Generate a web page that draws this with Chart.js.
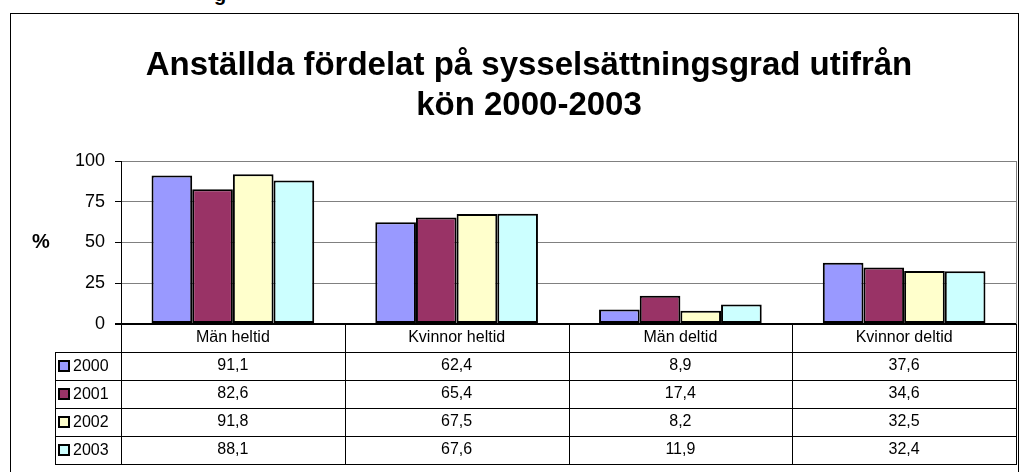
<!DOCTYPE html>
<html>
<head>
<meta charset="utf-8">
<script src="https://cdn.jsdelivr.net/npm/chart.js"></script>
<style>
  html, body { margin: 0; padding: 0; background: #fff; overflow: hidden; }
  #ram { position: absolute; left: 10px; top: 13px; width: 1007px; height: 520px; border: 1.5px solid #000; }
  #rest { position: absolute; left: 214px; top: -17px; font: bold 20px "Liberation Sans", Arial, sans-serif; color: #000; }
  canvas { position: absolute; left: 0; top: 0; }
</style>
</head>
<body>
<div id="rest">g</div>
<div id="ram"></div>
<canvas id="diagram" width="1021" height="472"></canvas>
<script>
// Data
const kategorier = ["Män heltid", "Kvinnor heltid", "Män deltid", "Kvinnor deltid"];
const ar = ["2000", "2001", "2002", "2003"];
const varden2000 = [91.1, 62.4, 8.9, 37.6];
const varden2001 = [82.6, 65.4, 17.4, 34.6];
const varden2002 = [91.8, 67.5, 8.2, 32.5];
const varden2003 = [88.1, 67.6, 11.9, 32.4];
const yTicks = [0, 25, 50, 75, 100];
const farger = ["#9999FF", "#993366", "#FFFFCC", "#CCFFFF"];

const serier = [varden2000, varden2001, varden2002, varden2003];
const FONT = '"Liberation Sans", Arial, sans-serif';

// Ritar datatabellen under diagrammet samt %-etiketten
const tabellPlugin = {
  id: "tabell",
  afterDraw(chart) {
    const ctx = chart.ctx;
    const x = chart.scales.x;
    const y = chart.scales.y;
    const area = chart.chartArea;
    const bredd = (x.right - x.left) / kategorier.length;
    const radH = 28;
    const topp = area.bottom;
    const tabellTopp = topp + radH;
    const botten = tabellTopp + radH * ar.length;
    const vansterKant = 55;

    ctx.save();
    // högerkant på ritytan
    ctx.strokeStyle = "#808080";
    ctx.lineWidth = 1;
    ctx.beginPath();
    ctx.moveTo(area.right + 0.5, area.top);
    ctx.lineTo(area.right + 0.5, area.bottom);
    ctx.stroke();

    ctx.strokeStyle = "#000";
    ctx.lineWidth = 1;
    ctx.beginPath();
    // vertikala linjer
    for (let i = 0; i <= kategorier.length; i++) {
      const px = Math.round(x.left + i * bredd) + 0.5;
      ctx.moveTo(px, topp);
      ctx.lineTo(px, botten);
    }
    ctx.moveTo(vansterKant + 0.5, tabellTopp);
    ctx.lineTo(vansterKant + 0.5, botten);
    // horisontella linjer
    for (let r = 0; r <= ar.length; r++) {
      const py = tabellTopp + r * radH + 0.5;
      ctx.moveTo(vansterKant, py);
      ctx.lineTo(x.right + 1, py);
    }
    ctx.stroke();

    ctx.fillStyle = "#000";
    ctx.textAlign = "center";
    ctx.textBaseline = "middle";
    ctx.font = "16px " + FONT;
    kategorier.forEach((k, i) => {
      const cx = x.getPixelForValue(i);
      ctx.fillText(k, cx, topp + radH / 2);
      serier.forEach((s, r) => {
        ctx.fillText(String(s[i]).replace(".", ","), cx, tabellTopp + r * radH + radH / 2);
      });
    });

    // förklaringar
    ar.forEach((a, r) => {
      const cy = tabellTopp + r * radH + radH / 2;
      ctx.fillStyle = farger[r];
      ctx.fillRect(59, cy - 5, 10, 10);
      ctx.strokeStyle = "#000";
      ctx.lineWidth = 2;
      ctx.strokeRect(59, cy - 5, 10, 10);
      ctx.fillStyle = "#000";
      ctx.textAlign = "left";
      ctx.font = "16px " + FONT;
      ctx.fillText(a, 73, cy + 1);
    });

    // %-etikett
    ctx.font = "bold 20px " + FONT;
    ctx.textAlign = "center";
    ctx.fillText("%", 41, y.getPixelForValue(50));
    ctx.restore();
  }
};

new Chart(document.getElementById("diagram"), {
  type: "bar",
  data: {
    labels: kategorier,
    datasets: ar.map((a, i) => ({
      label: a,
      data: serier[i],
      backgroundColor: farger[i],
      borderColor: "#000",
      borderWidth: 2,
      borderSkipped: false,
      categoryPercentage: 0.727,
      barPercentage: 1
    }))
  },
  options: {
    responsive: false,
    animation: false,
    devicePixelRatio: 1,
    layout: { padding: { left: 42, right: 5, top: 0, bottom: 148 } },
    plugins: {
      legend: { display: false },
      tooltip: { enabled: false },
      title: {
        display: true,
        text: ["Anställda fördelat på sysselsättningsgrad utifrån", "kön 2000-2003"],
        color: "#000",
        font: { family: FONT, size: 33, weight: "bold", lineHeight: 40 / 33 },
        padding: { top: 46, bottom: 35 }
      }
    },
    scales: {
      x: { display: false },
      y: {
        min: 0,
        max: 100,
        afterBuildTicks: (s) => { s.ticks = yTicks.map(v => ({ value: v })); },
        afterFit: (s) => { s.width = 79; },
        ticks: { color: "#000", font: { family: FONT, size: 18 }, padding: 10 },
        grid: {
          color: (c) => c.tick && c.tick.value === 0 ? "#000" : "#808080",
          lineWidth: (c) => c.tick && c.tick.value === 0 ? 2 : 1,
          tickColor: "#000",
          tickLength: 6
        },
        border: { color: "#000", width: 1 }
      }
    }
  },
  plugins: [tabellPlugin]
});
</script>
</body>
</html>
